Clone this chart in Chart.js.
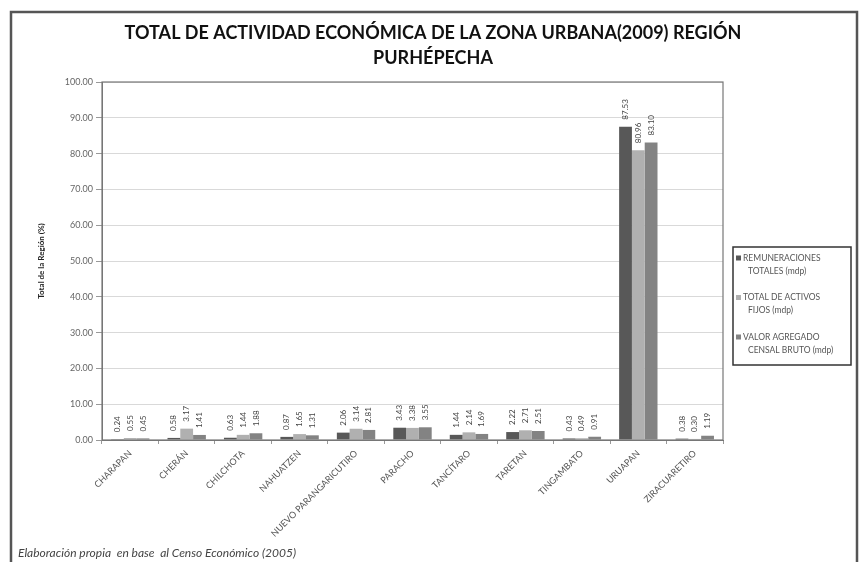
<!DOCTYPE html>
<html lang="es">
<head>
  <meta charset="UTF-8" />
  <title>Total de actividad económica de la zona urbana (2009) Región Purhépecha</title>
  <script src="https://cdn.jsdelivr.net/npm/chart.js"></script>
  <style>
    html, body { margin:0; padding:0; background:#fff; }
    #wrap { width:862px; height:562px; position:relative; }
  </style>
</head>
<body>
<div id="wrap"><canvas id="chart" width="862" height="562"></canvas></div>

<script>
/* ====== datos ====== */
const municipios = ['CHARAPAN','CHERÁN','CHILCHOTA','NAHUATZEN','NUEVO PARANGARICUTIRO',
                    'PARACHO','TANCÍTARO','TARETAN','TINGAMBATO','URUAPAN','ZIRACUARETIRO'];
const remuneraciones = [0.24, 0.58, 0.63, 0.87, 2.06, 3.43, 1.44, 2.22, 0.43, 87.53, 0.38];
const activosFijos   = [0.55, 3.17, 1.44, 1.65, 3.14, 3.38, 2.14, 2.71, 0.49, 80.96, 0.30];
const valorAgregado  = [0.45, 1.41, 1.88, 1.31, 2.81, 3.55, 1.69, 2.51, 0.91, 83.10, 1.19];
const seriesNombres  = [['REMUNERACIONES','TOTALES (mdp)'],['TOTAL DE ACTIVOS','FIJOS (mdp)'],['VALOR AGREGADO','CENSAL BRUTO (mdp)']];
const titulo         = ['TOTAL DE ACTIVIDAD ECONÓMICA DE LA ZONA URBANA(2009) REGIÓN','PURHÉPECHA'];
const nota           = 'Elaboración propia  en base  al Censo Económico (2005)';
const colores        = ['#585858','#b0b0b0','#838383'];

const FONT = 'Lato, "Open Sans", sans-serif';

/* ====== título, marco, etiquetas de valor, leyenda y nota ====== */
const extras = {
  id:'extras',
  afterDraw(chart){
    const ctx = chart.ctx, a = chart.chartArea;
    ctx.save();
    // título (centrado en toda la figura)
    ctx.font = 'bold 18px ' + FONT; ctx.fillStyle = '#111';
    ctx.textAlign = 'center'; ctx.textBaseline = 'middle';
    ctx.fillText(titulo[0], 433, 33);
    ctx.fillText(titulo[1], 433, 58);

    // marco exterior
    ctx.strokeStyle = '#555'; ctx.lineWidth = 2.5;
    ctx.beginPath(); ctx.moveTo(11, 570); ctx.lineTo(11, 12); ctx.lineTo(857, 12); ctx.lineTo(857, 570); ctx.stroke();
    // borde del área de trazado
    ctx.strokeStyle = '#777'; ctx.lineWidth = 1.2;
    ctx.strokeRect(a.left, a.top, a.right - a.left, a.bottom - a.top);

    // etiquetas de valor verticales
    ctx.font = '8px ' + FONT; ctx.fillStyle = '#444';
    ctx.textAlign = 'left'; ctx.textBaseline = 'middle';
    chart.data.datasets.forEach((ds, i) => {
      chart.getDatasetMeta(i).data.forEach((bar, j) => {
        ctx.save();
        ctx.translate(bar.x, bar.y - 7);
        ctx.rotate(-Math.PI/2);
        ctx.fillText(ds.data[j].toFixed(2), 0, 0);
        ctx.restore();
      });
    });

    // leyenda
    ctx.strokeStyle = '#333'; ctx.lineWidth = 1.5;
    ctx.strokeRect(733, 247, 118, 118);
    ctx.font = '8.5px ' + FONT;
    seriesNombres.forEach((lines, i) => {
      const y = 258 + i*39.5;
      ctx.fillStyle = colores[i];
      ctx.fillRect(736, y - 2.5, 5, 5);
      ctx.fillStyle = '#555';
      ctx.fillText(lines[0], 743, y, 92);
      ctx.fillText(lines[1], 748, y + 13, 100);
    });

    // nota
    ctx.font = 'italic 12px ' + FONT; ctx.fillStyle = '#444';
    ctx.fillText(nota, 18, 553);
    ctx.restore();
  }
};

new Chart(document.getElementById('chart'), {
  type:'bar',
  data:{
    labels: municipios,
    datasets: [remuneraciones, activosFijos, valorAgregado].map((d, i) => ({
      label: seriesNombres[i].join(' '),
      data: d,
      backgroundColor: colores[i],
      borderWidth: 0,
      barPercentage: 1.0,
      categoryPercentage: 0.68
    }))
  },
  options:{
    responsive:false,
    animation:false,
    layout:{ padding:{ top:82, left:12, right:139, bottom:2 } },
    plugins:{
      legend:{ display:false },
      tooltip:{ enabled:false },
      title:{ display:false }
    },
    scales:{
      y:{
        min:0, max:100,
        afterFit(s){ s.width = 90; },
        ticks:{ stepSize:10, callback:v => v.toFixed(2), color:'#666', font:{ family:FONT, size:9 }, padding:3 },
        grid:{ color:'#d9d9d9', lineWidth:1, tickLength:6, tickColor:'#999' },
        border:{ color:'#777' },
        title:{ display:true, text:'Total de la Región (%)', color:'#222', font:{ family:FONT, size:8, weight:'bold' }, padding:{ top:25, bottom:0 } }
      },
      x:{
        afterFit(s){ s.height = 120; },
        ticks:{ minRotation:45, maxRotation:45, autoSkip:false, color:'#555', font:{ family:FONT, size:9 }, padding:4 },
        grid:{ display:true, drawOnChartArea:false, tickLength:4, color:'#999' },
        border:{ color:'#777' }
      }
    }
  },
  plugins:[extras]
});
</script>
</body>
</html>
